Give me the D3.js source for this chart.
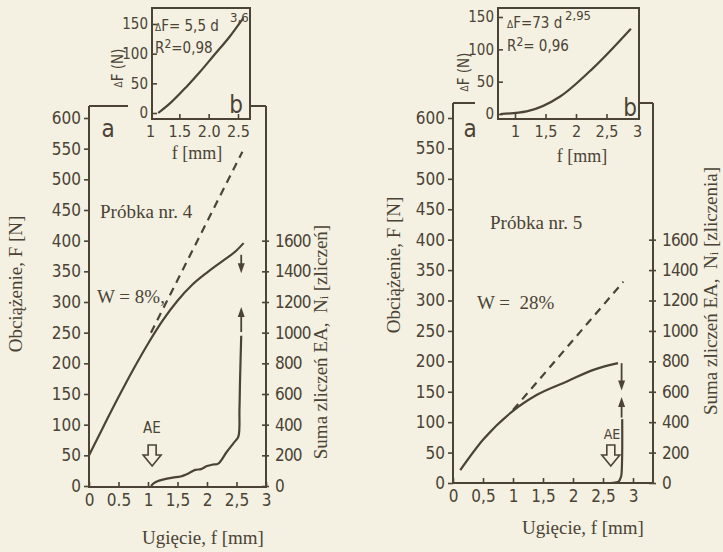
<!DOCTYPE html>
<html>
<head>
<meta charset="utf-8">
<script src="https://cdn.jsdelivr.net/npm/d3@7"></script>
<style>
  body { margin: 0; background: #f4f1e2; }
  svg { display: block; }
</style>
</head>
<body>
<script>
'use strict';

// ---- Próbka nr. 4 (left) ----
const f4Load = [0, 0.25, 0.5, 0.75, 1.0, 1.25, 1.5, 1.75, 2.0, 2.25, 2.5, 2.62];
const F4Load = [50, 98, 145, 190, 232, 270, 302, 328, 348, 366, 384, 396];
const f4Dash = [1.05, 2.6];
const F4Dash = [250, 545];
const f4AE = [1.05, 1.1, 1.15, 1.25, 1.42, 1.55, 1.7, 1.8, 1.9, 2.0, 2.1, 2.19, 2.33, 2.45, 2.53, 2.55, 2.56, 2.58];
const N4AE = [0, 18, 30, 42, 55, 62, 85, 105, 110, 130, 140, 146, 220, 280, 320, 500, 690, 980];
const f4Inset = [1.14, 1.35, 1.62, 1.85, 2.08, 2.36, 2.59];
const dF4Inset = [0, 17, 44, 69, 96, 129, 160];
const downArrow4 = [2.58, 377, 347];   // f, F from, F to
const upArrow4 = [2.58, 1004, 1167];   // f, N from, N to
const aeMark4 = 1.07;

// ---- Próbka nr. 5 (right) ----
const f5Load = [0.12, 0.5, 0.98, 1.4, 1.9, 2.34, 2.75];
const F5Load = [21, 71, 117, 145, 167, 186, 197];
const f5Dash = [1.0, 2.84];
const F5Dash = [120, 331];
const f5AE = [2.62, 2.7, 2.76, 2.8, 2.81, 2.82, 2.82];
const N5AE = [0, 3, 9, 40, 66, 200, 420];
const f5Inset = [0.76, 1.19, 1.74, 2.28, 2.9];
const dF5Inset = [0, 4, 27, 71, 132];
const downArrow5 = [2.81, 197, 152];
const upArrow5 = [2.81, 430, 565];
const aeMark5 = 2.63;

// ---- ticks ----
const xTicks = [0, 0.5, 1, 1.5, 2, 2.5, 3];
const xLabels4 = ["0", "0.5", "1", "1,5", "2", "2,5", "3"];
const xLabels5 = ["0", "0,5", "1", "1,5", "2", "2,5", "3"];
const yTicks = [0, 50, 100, 150, 200, 250, 300, 350, 400, 450, 500, 550, 600];
const nTicks = [0, 200, 400, 600, 800, 1000, 1200, 1400, 1600];
const insetYTicks = [0, 50, 100, 150];
const insetXTicks4 = [1, 1.5, 2, 2.5];
const insetXLabels4 = ["1", "1.5", "2.0", "2.5"];
const insetXTicks5 = [1, 1.5, 2, 2.5, 3];
const insetXLabels5 = ["1", "1,5", "2", "2,5", "3"];

const W = 723, H = 552;
const ink = "#4a4336";
const paper = "#f4f1e2";
const tickFont = "'DejaVu Sans Condensed', 'DejaVu Sans', sans-serif";
const serif = "'Liberation Serif', 'DejaVu Serif', serif";

function zip(a, b) { return a.map((v, i) => [v, b[i]]); }

const svg = d3.select("body").append("svg")
    .attr("width", W)
    .attr("height", H);
svg.append("rect").attr("width", W).attr("height", H).attr("fill", paper);

const panels = [
  {
    xRange: [89, 266], yRange: [486, 118],
    box: { left: 89, right: 266, top: 106, bottom: 487 },
    topSegs: [[89, 128], [250, 266]],
    xLabels: xLabels4,
    load: zip(f4Load, F4Load), dash: zip(f4Dash, F4Dash), ae: zip(f4AE, N4AE),
    down: downArrow4, up: upArrow4, aeMark: aeMark4, aeTop: 445,
    aeText: [152, 433, 15],
    aText: [108, 137], bText: [236, 113],
    probka: ["Próbka nr. 4", 100, 218],
    w: ["W = 8%,", 97, 303],
    ugiecie: [203, 544],
    leftTitle: [15, 284],
    rightTitle: [320, 342, "zliczeń"],
    inset: {
      xDomain: [1, 2.5], xRange: [150, 238], yRange: [113, 24],
      box: { left: 152, right: 250, top: 8, bottom: 119 },
      xTicks: insetXTicks4, xLabels: insetXLabels4, data: zip(f4Inset, dF4Inset),
      eq: ["F= 5,5 d", 155, 31], exp: ["3,6", 230, 22], r2: ["=0,98", 155, 53],
      yTitle: [118, 68], fTitle: [197, 159]
    }
  },
  {
    xRange: [453, 633], yRange: [483, 118],
    box: { left: 453, right: 653, top: 103, bottom: 483 },
    topSegs: [[453, 475], [639, 653]],
    xLabels: xLabels5,
    load: zip(f5Load, F5Load), dash: zip(f5Dash, F5Dash), ae: zip(f5AE, N5AE),
    down: downArrow5, up: upArrow5, aeMark: aeMark5, aeTop: 445,
    aeText: [612, 439, 14],
    aText: [470, 137], bText: [630, 116],
    probka: ["Próbka nr. 5", 490, 229],
    w: ["W =  28%", 477, 309],
    ugiecie: [583, 534],
    leftTitle: [393, 265],
    rightTitle: [710, 291, "zliczenia"],
    inset: {
      xDomain: [1, 3], xRange: [515, 637], yRange: [114, 17],
      box: { left: 498, right: 639, top: 8, bottom: 119 },
      xTicks: insetXTicks5, xLabels: insetXLabels5, data: zip(f5Inset, dF5Inset),
      eq: ["F=73 d", 507, 28], exp: ["2,95", 565, 20], r2: ["= 0,96", 507, 51],
      yTitle: [464, 72], fTitle: [582, 162]
    }
  }
];

function styleAxis(sel, size) {
  sel.select(".domain").remove();
  sel.selectAll(".tick line").attr("stroke", ink).attr("stroke-width", 1.6);
  sel.selectAll(".tick text")
      .attr("fill", ink)
      .style("font-family", tickFont)
      .style("font-size", size + "px");
}

function arrowHead(g, x, y, dir) {
  // dir: 1 pointing down, -1 pointing up
  g.append("path")
      .attr("d", `M${x - 3.5},${y - dir * 10} L${x + 3.5},${y - dir * 10} L${x},${y} Z`)
      .attr("fill", ink);
}

function drawPanel(p) {
  const g = svg.append("g");
  const x = d3.scaleLinear().domain([0, 3]).range(p.xRange);
  const y = d3.scaleLinear().domain([0, 600]).range(p.yRange);
  const yN = d3.scaleLinear().domain([0, 2400]).range(p.yRange);
  const b = p.box;

  // frame
  g.append("path")
      .attr("d", `M${b.left},${b.top} V${b.bottom} H${b.right} V${b.top}`)
      .attr("fill", "none").attr("stroke", ink).attr("stroke-width", 2);
  p.topSegs.forEach(function(s) {
    g.append("line").attr("x1", s[0]).attr("x2", s[1]).attr("y1", b.top).attr("y2", b.top)
        .attr("stroke", ink).attr("stroke-width", 2);
  });

  // axes
  g.append("g").attr("transform", `translate(${b.left},0)`)
      .call(d3.axisLeft(y).tickValues(yTicks).tickFormat(d3.format("d")).tickSize(5).tickPadding(3))
      .call(styleAxis, 17);
  const ra = g.append("g").attr("transform", `translate(${b.right},0)`)
      .call(d3.axisRight(yN).tickValues(nTicks).tickFormat(d3.format("d")).tickSize(4).tickPadding(5))
      .call(styleAxis, 17);
  ra.selectAll(".tick line").attr("x1", -4).attr("x2", 3);
  ra.selectAll(".tick text").style("letter-spacing", "-0.8px");
  g.append("g").attr("transform", `translate(0,${b.bottom})`)
      .call(d3.axisBottom(x).tickValues(xTicks).tickFormat((d, i) => p.xLabels[i]).tickSize(-5).tickPadding(7))
      .call(styleAxis, 17);

  // curves
  const line = d3.line().x(d => x(d[0])).y(d => y(d[1])).curve(d3.curveMonotoneX);
  const lineN = d3.line().x(d => x(d[0])).y(d => yN(d[1])).curve(d3.curveCatmullRom.alpha(0.5));

  g.append("path").attr("d", line(p.load))
      .attr("fill", "none").attr("stroke", ink).attr("stroke-width", 2.2);
  g.append("path").attr("d", d3.line().x(d => x(d[0])).y(d => y(d[1]))(p.dash))
      .attr("fill", "none").attr("stroke", ink).attr("stroke-width", 2.2)
      .attr("stroke-dasharray", "8,6");
  g.append("path").attr("d", lineN(p.ae))
      .attr("fill", "none").attr("stroke", ink).attr("stroke-width", 2.2);

  // small arrows
  const dx = x(p.down[0]);
  g.append("line").attr("x1", dx).attr("x2", dx).attr("y1", y(p.down[1])).attr("y2", y(p.down[2]) - 6)
      .attr("stroke", ink).attr("stroke-width", 1.8);
  arrowHead(g, dx, y(p.down[2]), 1);
  const ux = x(p.up[0]);
  g.append("line").attr("x1", ux).attr("x2", ux).attr("y1", yN(p.up[1])).attr("y2", yN(p.up[2]) + 6)
      .attr("stroke", ink).attr("stroke-width", 1.8);
  arrowHead(g, ux, yN(p.up[2]), -1);

  // hollow AE arrow
  const ax = x(p.aeMark), ay = p.aeTop;
  g.append("path")
      .attr("d", `M${ax - 4},${ay} H${ax + 4} V${ay + 10} H${ax + 9} L${ax},${ay + 21} L${ax - 9},${ay + 10} H${ax - 4} Z`)
      .attr("fill", paper).attr("stroke", ink).attr("stroke-width", 1.6);

  // texts
  function txt(t, tx, ty, font, size, anchor) {
    return g.append("text").attr("x", tx).attr("y", ty).text(t)
        .attr("fill", ink).attr("text-anchor", anchor || "start")
        .style("font-family", font).style("font-size", size + "px")
        .style("white-space", "pre");
  }
  txt("AE", p.aeText[0], p.aeText[1], tickFont, p.aeText[2], "middle");
  txt("a", p.aText[0], p.aText[1], tickFont, 24, "middle");
  txt("Ugięcie, f [mm]", p.ugiecie[0], p.ugiecie[1], serif, 19, "middle");
  txt(p.probka[0], p.probka[1], p.probka[2], serif, 19);
  txt(p.w[0], p.w[1], p.w[2], serif, 19);

  g.append("text")
      .attr("transform", `translate(${p.leftTitle[0]},${p.leftTitle[1]}) rotate(-90)`)
      .attr("text-anchor", "middle").attr("dominant-baseline", "central")
      .attr("fill", ink).style("font-family", serif).style("font-size", "19px")
      .text("Obciążenie, F [N]");
  const rt = g.append("text")
      .attr("transform", `translate(${p.rightTitle[0]},${p.rightTitle[1]}) rotate(-90)`)
      .attr("text-anchor", "middle").attr("dominant-baseline", "central")
      .attr("fill", ink).style("font-family", serif).style("font-size", "19px")
      .style("white-space", "pre");
  rt.append("tspan").text("Suma zliczeń EA,  N");
  rt.append("tspan").attr("dy", 4).style("font-size", "12px").text("i");
  rt.append("tspan").attr("dy", -4).text(" [" + p.rightTitle[2] + "]");

  // inset
  const ins = p.inset, ib = ins.box;
  const ix = d3.scaleLinear().domain(ins.xDomain).range(ins.xRange);
  const iy = d3.scaleLinear().domain([0, 150]).range(ins.yRange);
  const ig = svg.append("g");
  ig.append("rect").attr("x", ib.left).attr("y", ib.top)
      .attr("width", ib.right - ib.left).attr("height", ib.bottom - ib.top)
      .attr("fill", paper).attr("stroke", ink).attr("stroke-width", 2);
  ig.append("g").attr("transform", `translate(${ib.left},0)`)
      .call(d3.axisLeft(iy).tickValues(insetYTicks).tickSize(-5).tickPadding(4))
      .call(styleAxis, 15);
  const ixa = ig.append("g").attr("transform", `translate(0,${ib.bottom})`)
      .call(d3.axisBottom(ix).tickValues(ins.xTicks).tickFormat((d, i) => ins.xLabels[i]).tickSize(-5).tickPadding(7))
      .call(styleAxis, 16);
  ixa.selectAll(".tick line").filter(d => Math.abs(ix(d) - ib.left) < 4 || Math.abs(ix(d) - ib.right) < 4).remove();
  ig.append("path").attr("d", d3.line().x(d => ix(d[0])).y(d => iy(d[1])).curve(d3.curveMonotoneX)(ins.data))
      .attr("fill", "none").attr("stroke", ink).attr("stroke-width", 2.2);

  const eq = ig.append("text").attr("x", ins.eq[1]).attr("y", ins.eq[2])
      .attr("fill", ink).style("font-family", tickFont).style("font-size", "15px");
  eq.append("tspan").style("font-size", "10px").text("Δ");
  eq.append("tspan").text(ins.eq[0]);
  ig.append("text").attr("x", ins.exp[1]).attr("y", ins.exp[2]).text(ins.exp[0])
      .attr("fill", ink).style("font-family", tickFont).style("font-size", "13px");
  const r2 = ig.append("text").attr("x", ins.r2[1]).attr("y", ins.r2[2])
      .attr("fill", ink).style("font-family", tickFont).style("font-size", "15px")
      .style("white-space", "pre");
  r2.append("tspan").text("R");
  r2.append("tspan").attr("dy", -5).style("font-size", "12px").text("2");
  r2.append("tspan").attr("dy", 5).text(ins.r2[0]);

  const yt = ig.append("text")
      .attr("transform", `translate(${ins.yTitle[0]},${ins.yTitle[1]}) rotate(-90)`)
      .attr("text-anchor", "middle").attr("dominant-baseline", "central")
      .attr("fill", ink).style("font-family", tickFont).style("font-size", "15px");
  yt.append("tspan").style("font-size", "10px").text("Δ");
  yt.append("tspan").text("F (N)");
  ig.append("text").attr("x", ins.fTitle[0]).attr("y", ins.fTitle[1]).text("f [mm]")
      .attr("text-anchor", "middle").attr("fill", ink)
      .style("font-family", serif).style("font-size", "18px");
  ig.append("text").attr("x", p.bText[0]).attr("y", p.bText[1]).text("b")
      .attr("text-anchor", "middle").attr("fill", ink)
      .style("font-family", tickFont).style("font-size", "24px");
}

panels.forEach(drawPanel);
</script>
</body>
</html>
